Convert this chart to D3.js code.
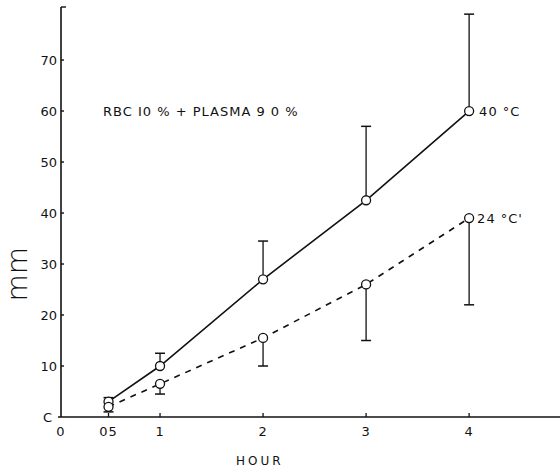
<!DOCTYPE html>
<html>
<head>
<meta charset="utf-8">
<script src="https://cdn.jsdelivr.net/npm/d3@7"></script>
<style>
  body { margin: 0; background: #fff; }
  text { font-family: "DejaVu Sans", sans-serif; fill: #111; }
</style>
</head>
<body>
<div class="canvas"></div>
<script>
// data
const hours = [0.5, 1, 2, 3, 4];
const warm = [3, 10, 27, 42.5, 60];          // 40 °C
const warmUpper = [3.8, 12.5, 34.5, 57, 79];
const cool = [2, 6.5, 15.5, 26, 39];         // 24 °C
const coolLower = [1, 4.5, 10, 15, 22];
const xTicks = [0, 0.5, 1, 2, 3, 4];
const xTickLabels = ['0', '05', '1', '2', '3', '4'];
const yTicks = [0, 10, 20, 30, 40, 50, 60, 70];

const dims = {width: 560, height: 469};

const svg = d3.select('.canvas')
	.append('svg')
	.attr('width', dims.width)
	.attr('height', dims.height);

const x = d3.scaleLinear()
	.domain([0, 4.95])
	.range([57, 567]);

const y = d3.scaleLinear()
	.domain([0, 80.4])
	.range([417, 7]);

// axes
svg.append('line')
	.attr('x1', 61).attr('x2', 61)
	.attr('y1', y(0)).attr('y2', y(80.4))
	.attr('stroke', '#111').attr('stroke-width', 1.6);
svg.append('line')
	.attr('x1', 61).attr('x2', 66)
	.attr('y1', y(80.4)).attr('y2', y(80.4))
	.attr('stroke', '#111').attr('stroke-width', 1.4);
svg.append('line')
	.attr('x1', 58).attr('x2', dims.width)
	.attr('y1', y(0)).attr('y2', y(0))
	.attr('stroke', '#111').attr('stroke-width', 1.6);

// y ticks
svg.selectAll('.ytick')
	.data(yTicks.filter(d => d > 0))
	.enter()
	.append('line')
		.attr('class', 'ytick')
		.attr('x1', 61).attr('x2', 64)
		.attr('y1', d => y(d)).attr('y2', d => y(d))
		.attr('stroke', '#111').attr('stroke-width', 1.4);

svg.selectAll('.ylab')
	.data(yTicks)
	.enter()
	.append('text')
		.attr('class', 'ylab')
		.attr('x', d => d === 0 ? 52 : 57)
		.attr('y', d => y(d) + 5)
		.attr('text-anchor', 'end')
		.attr('font-size', 13)
		.text(d => d === 0 ? 'C' : d);

// x ticks
svg.selectAll('.xtick')
	.data(xTicks.filter(d => d > 0))
	.enter()
	.append('line')
		.attr('class', 'xtick')
		.attr('x1', d => x(d)).attr('x2', d => x(d))
		.attr('y1', y(0)).attr('y2', y(0) - 4)
		.attr('stroke', '#111').attr('stroke-width', 1.3);

svg.selectAll('.xlab')
	.data(xTicks)
	.enter()
	.append('text')
		.attr('class', 'xlab')
		.attr('x', (d, i) => i === 0 ? 61 : x(d))
		.attr('y', 436)
		.attr('text-anchor', 'middle')
		.attr('font-size', 13)
		.attr('letter-spacing', 1)
		.text((d, i) => xTickLabels[i]);

// axis titles
svg.append('text')
	.attr('x', 236).attr('y', 465)
	.attr('font-size', 12)
	.attr('letter-spacing', 3)
	.text('HOUR');

svg.append('text')
	.attr('transform', `translate(27, ${y(28)}) rotate(-90)`)
	.attr('text-anchor', 'middle')
	.attr('font-size', 28)
	.attr('font-weight', 300)
	.attr('fill', '#222')
	.text('mm');

// error bars
const drawErr = (vals, ends) => {
	vals.forEach((v, i) => {
		svg.append('line')
			.attr('x1', x(hours[i])).attr('x2', x(hours[i]))
			.attr('y1', y(v)).attr('y2', y(ends[i]))
			.attr('stroke', '#111').attr('stroke-width', 1.3);
		svg.append('line')
			.attr('x1', x(hours[i]) - 5).attr('x2', x(hours[i]) + 5)
			.attr('y1', y(ends[i])).attr('y2', y(ends[i]))
			.attr('stroke', '#111').attr('stroke-width', 1.5);
	});
};
drawErr(warm, warmUpper);
drawErr(cool, coolLower);

// lines
const line = d3.line()
	.x((d, i) => x(hours[i]))
	.y(d => y(d));

svg.append('path')
	.attr('d', line(warm))
	.attr('fill', 'none')
	.attr('stroke', '#111')
	.attr('stroke-width', 1.6);

svg.append('path')
	.attr('d', line(cool))
	.attr('fill', 'none')
	.attr('stroke', '#111')
	.attr('stroke-width', 1.6)
	.attr('stroke-dasharray', '6,6');

// markers
[warm, cool].forEach(series => {
	svg.selectAll(null)
		.data(series)
		.enter()
		.append('circle')
			.attr('cx', (d, i) => x(hours[i]))
			.attr('cy', d => y(d))
			.attr('r', 4.5)
			.attr('fill', '#fff')
			.attr('stroke', '#111')
			.attr('stroke-width', 1.3);
});

// annotations
svg.append('text')
	.attr('x', 103).attr('y', y(60) + 5)
	.attr('font-size', 13)
	.attr('letter-spacing', 1)
	.text('RBC I0 % + PLASMA 9 0 %');

svg.append('text')
	.attr('x', x(4) + 10).attr('y', y(60) + 5)
	.attr('font-size', 13)
	.attr('letter-spacing', 1)
	.text('40 °C');

svg.append('text')
	.attr('x', x(4) + 8).attr('y', y(39) + 5)
	.attr('font-size', 13)
	.attr('letter-spacing', 1)
	.text('24 °C\'');
</script>
</body>
</html>
